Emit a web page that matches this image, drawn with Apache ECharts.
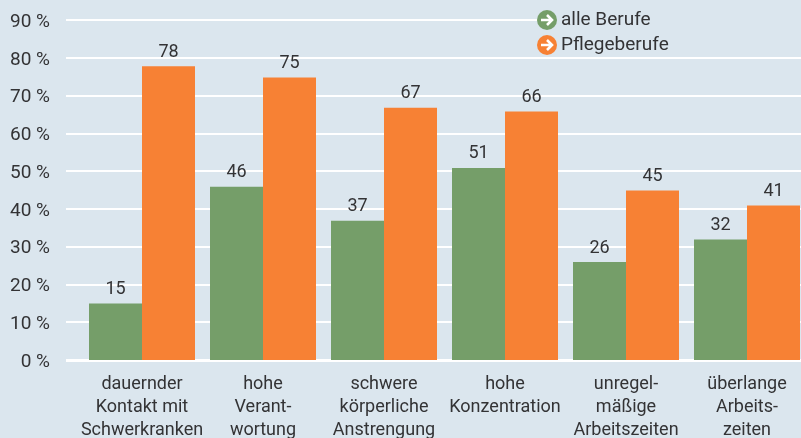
<!DOCTYPE html>
<html>
<head>
<meta charset="utf-8">
<style>
  html, body { margin: 0; padding: 0; background: #dbe6ee; }
  #chart { width: 801px; height: 438px; }
</style>
<script src="https://cdn.jsdelivr.net/npm/echarts@6/dist/echarts.min.js"></script>
</head>
<body>
<div id="chart"></div>
<script>
const categories = ['dauernder\nKontakt mit\nSchwerkranken', 'hohe\nVerant-\nwortung', 'schwere\nkörperliche\nAnstrengung', 'hohe\nKonzentration', 'unregel-\nmäßige\nArbeitszeiten', 'überlange\nArbeits-\nzeiten'];
const alleBerufe = [15, 46, 37, 51, 26, 32];
const pflegeberufe = [78, 75, 67, 66, 45, 41];

const textColor = '#333335';
const fontName = 'Roboto';

function arrowIcon(color) {
    let svg = `<svg xmlns="http://www.w3.org/2000/svg" width="20" height="20"><circle cx="10" cy="10" r="10" fill="${color}"/><path d="M4 10H15M10 5L15 10L10 15" fill="none" stroke="#fff" stroke-width="2.6"/></svg>`;
    return 'image://data:image/svg+xml,' + encodeURIComponent(svg);
}

let chart = echarts.init(document.getElementById('chart'));
chart.setOption({
    animation: false,
    backgroundColor: '#dbe6ee',
    textStyle: { fontFamily: fontName },
    legend: {
        orient: 'vertical',
        left: 537,
        top: 10,
        padding: 0,
        itemGap: 5,
        itemWidth: 20,
        itemHeight: 20,
        textStyle: { color: textColor, fontSize: 19, padding: [2, 0, 0, -1] },
        data: [
            { name: 'alle Berufe', icon: arrowIcon('#759e69') },
            { name: 'Pflegeberufe', icon: arrowIcon('#f78134') }
        ]
    },
    // first grid only carries the gridlines, the second one the bars
    grid: [
        { left: 66, right: 0, top: 20, bottom: 78, outerBoundsMode: 'none' },
        { left: 81.5, right: -6.5, top: 21, bottom: 78, outerBoundsMode: 'none' }
    ],
    xAxis: [
        { type: 'category', gridIndex: 0, show: false, data: categories },
        {
            type: 'category',
            gridIndex: 1,
            data: categories,
            axisLine: { show: false },
            axisTick: { show: false },
            axisLabel: { color: textColor, fontSize: 18, lineHeight: 23, margin: 13, interval: 0 }
        }
    ],
    yAxis: [
        {
            type: 'value',
            gridIndex: 0,
            min: 0,
            max: 90,
            interval: 10,
            axisLine: { show: false },
            axisTick: { show: false },
            axisLabel: {
                margin: 16,
                formatter: '{a|{value} %}',
                rich: { a: { color: textColor, fontSize: 19, padding: [4, 0, 0, 0] } }
            },
            splitLine: { lineStyle: { color: '#ffffff', width: 2 } }
        },
        { type: 'value', gridIndex: 1, min: 0, max: 90, interval: 10, show: false }
    ],
    graphic: [
        // the top gridline stops at the legend
        { type: 'rect', z: 1, shape: { x: 545, y: 17, width: 256, height: 6 }, style: { fill: '#dbe6ee' } },
        // thicker zero line
        { type: 'rect', z: 1, shape: { x: 66, y: 359, width: 735, height: 3 }, style: { fill: '#ffffff' } }
    ],
    series: [
        {
            name: 'alle Berufe',
            type: 'bar',
            xAxisIndex: 1,
            yAxisIndex: 1,
            barWidth: 53,
            barGap: 0,
            z: 3,
            itemStyle: { color: '#759e69' },
            label: { show: true, position: 'top', distance: 5, color: textColor, fontSize: 18 },
            data: alleBerufe
        },
        {
            name: 'Pflegeberufe',
            type: 'bar',
            xAxisIndex: 1,
            yAxisIndex: 1,
            barWidth: 53,
            z: 3,
            itemStyle: { color: '#f78134' },
            label: { show: true, position: 'top', distance: 5, color: textColor, fontSize: 18 },
            data: pflegeberufe
        }
    ]
});
</script>
</body>
</html>
